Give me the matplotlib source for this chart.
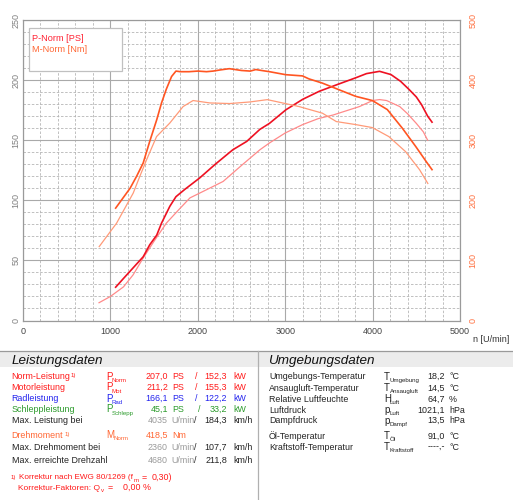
import matplotlib
matplotlib.use('Agg')
import matplotlib.pyplot as plt
from matplotlib.ticker import MultipleLocator
from matplotlib.patches import Rectangle
from matplotlib.lines import Line2D

# ---------------- data ----------------
rpm_p = [1060, 1150, 1250, 1375, 1450, 1530, 1585, 1680, 1750, 1850, 2020, 2200, 2400, 2560,
         2710, 2820, 3010, 3200, 3390, 3585, 3810, 3930, 4080, 4210, 4320, 4420, 4500, 4560, 4630, 4680]
p_norm = [27.7, 35, 43, 53, 63, 71, 81, 95, 103, 109, 118.5, 130, 142, 149,
          159, 164, 175.4, 184, 190.7, 196, 202, 205.4, 207.3, 204.6, 199, 192, 186, 179.6, 170, 165]

rpm_p2 = [870, 1000, 1150, 1260, 1375, 1500, 1640, 1780, 1910, 2100, 2290, 2500, 2710, 2820,
          3000, 3200, 3380, 3550, 3700, 3850, 4000, 4080, 4160, 4310, 4400, 4500, 4580, 4630]
p_mot = [14.8, 20, 28, 38, 52, 66, 81, 92, 102, 108.8, 115.7, 129, 142, 147.7,
         156, 163, 168, 171, 174.5, 178, 183, 183.8, 183, 178, 172, 164, 157, 150]

rpm_m = [1060, 1150, 1225, 1300, 1375, 1450, 1530, 1585, 1640, 1700, 1750, 1800, 1900, 2000,
         2100, 2175, 2260, 2360, 2500, 2600, 2663, 2820, 3006, 3197, 3272, 3425, 3615, 3806,
         3997, 4168, 4340, 4491, 4625, 4680]
m_norm = [187, 205, 220, 240, 262, 298, 334, 362, 385, 406, 415, 414, 414, 415,
          414, 415, 417, 419, 416, 415, 417.5, 414, 409, 407, 402, 395, 384, 373,
          366, 351, 320, 290, 262, 251]

rpm_m2 = [872, 1071, 1261, 1337, 1414, 1528, 1680, 1832, 1946, 2137, 2366, 2594, 2796,
          3158, 3425, 3585, 3806, 3997, 4186, 4377, 4537, 4632]
m_mot = [123, 162, 212, 240, 267.5, 306, 328.6, 356, 366, 362, 361, 363.6, 367.5,
         356, 345, 331, 326, 321, 306, 281, 251, 228]

x_ticks = [0, 1000, 2000, 3000, 4000, 5000]
y_left_ticks = [0, 50, 100, 150, 200, 250]
y_right_ticks = [0, 100, 200, 300, 400, 500]

W, H = 513, 500
FONT = 'Liberation Sans'
plt.rcParams['font.family'] = [FONT, 'DejaVu Sans']

fig = plt.figure(figsize=(W / 100, H / 100), dpi=100)
ax = fig.add_axes([23 / W, 1 - 320.5 / H, (460 - 23) / W, (320.5 - 20) / H])
ax.set_xlim(0, 5000)
ax.set_ylim(0, 250)
ax.set_xticks(x_ticks)
ax.set_yticks(y_left_ticks)
ax.xaxis.set_minor_locator(MultipleLocator(200))
ax.yaxis.set_minor_locator(MultipleLocator(10))
ax.grid(True, which='major', color='#a9a9a9', lw=0.8, ls='-')
ax.grid(True, which='minor', color='#b5b5b5', lw=0.6, ls=(0, (3, 2)))
ax.tick_params(which='both', length=0)
ax.tick_params(axis='x', labelsize=6.5, labelcolor='#444444', pad=5)
ax.tick_params(axis='y', labelsize=6.5, labelcolor='#808080', pad=2)
for lb in ax.get_yticklabels():
    lb.set_rotation(90)
    lb.set_va('center')
for s in ax.spines.values():
    s.set_color('#9a9a9a')
    s.set_linewidth(0.8)

ax.plot(rpm_p2, p_mot, color='#ff8a8a', lw=0.9, zorder=3)
ax.plot(rpm_p, p_norm, color='#ee1122', lw=1.2, zorder=4)

ax2 = ax.twinx()
ax2.set_ylim(0, 500)
ax2.set_yticks(y_right_ticks)
ax2.tick_params(length=0, labelsize=6.5, labelcolor='#ff7040', pad=6)
for lb in ax2.get_yticklabels():
    lb.set_rotation(90)
    lb.set_va('center')
for s in ax2.spines.values():
    s.set_color('#9a9a9a')
    s.set_linewidth(0.8)
ax2.plot(rpm_m2, m_mot, color='#ff9a78', lw=0.9, zorder=3)
ax2.plot(rpm_m, m_norm, color='#ff5522', lw=1.2, zorder=4)

# legend box
ax2.add_patch(Rectangle((29 / W, 1 - 71 / H), 93 / W, 43 / H, transform=fig.transFigure,
                        fc='white', ec='#c0c0c0', lw=0.9, zorder=6))

FS = 6.4
SUB = 4.4


def T(x, yc, s, color='#222222', size=FS, ha='left', baseline=None, **kw):
    """yc = visual centre of capitals (px from top); baseline overrides."""
    yb = baseline if baseline is not None else yc + 0.36 * size * 100 / 72
    return fig.text(x / W, 1 - yb / H, s, color=color, fontsize=size, ha=ha,
                    va='baseline', **kw)


renderer = fig.canvas.get_renderer()


def right_px(t):
    return t.get_window_extent(renderer).x1


T(32, 38, 'P-Norm [PS]', color='#ff2233', size=6.6)
T(32, 48.5, 'M-Norm [Nm]', color='#ff6633', size=6.6)
T(473, 339, 'n [U/min]', color='#333333', size=6.5)

# ---------------- table ----------------
fig.add_artist(Rectangle((0, 1 - 367 / H), 1, 16 / H, transform=fig.transFigure,
                         fc='#ececec', ec='none', zorder=1))
fig.add_artist(Line2D([0, 1], [1 - 351 / H, 1 - 351 / H], transform=fig.transFigure,
                      color='#9a9a9a', lw=0.9))
fig.add_artist(Line2D([257.5 / W, 257.5 / W], [1 - 351 / H, 0], transform=fig.transFigure,
                      color='#b0b0b0', lw=0.9))
T(11.5, 359.5, 'Leistungsdaten', color='#111111', size=9.7, style='italic')
T(269, 359.5, 'Umgebungsdaten', color='#111111', size=9.7, style='italic')

RED = '#ff1a1a'
BLUE = '#2222ee'
GREEN = '#2a9a2a'
DARK = '#222222'
GRAY = '#9a9a9a'
ORANGE = '#ff6633'


def sym(x, y, base, sub, color, dx=6):
    T(x, y, base, color=color, size=7.0)
    T(x + dx, y, sub, color=color, size=SUB, baseline=y + 5.8)


rows = [
    ('Norm-Leistung', 'Norm', '207,0', '152,3', RED, 376, True),
    ('Motorleistung', 'Mot', '211,2', '155,3', RED, 387, False),
    ('Radleistung', 'Rad', '166,1', '122,2', BLUE, 398, False),
    ('Schleppleistung', 'Schlepp', '45,1', '33,2', GREEN, 409, False),
]
for lab, sub, ps, kw, c, y, foot in rows:
    T(11.5, y, lab, color=c)
    if foot:
        T(71, y, '1)', color=c, size=SUB, baseline=y + 1.5)
    sym(106, y, 'P', sub, c)
    T(168, y, ps, color=c, ha='right')
    T(172, y, 'PS', color=c)
    T(199 if sub == 'Schlepp' else 196.5, y, '/', color=c, ha='center')
    T(227, y, kw, color=c, ha='right')
    T(233, y, 'kW', color=c)

for lab, rpmv, kmh, y in [('Max. Leistung bei', '4035', '184,3', 420),
                          ('Max. Drehmoment bei', '2360', '107,7', 446.5),
                          ('Max. erreichte Drehzahl', '4680', '211,8', 460)]:
    T(11.5, y, lab, color=DARK)
    T(168, y, rpmv, color=GRAY, ha='right')
    T(171, y, 'U/min', color=GRAY)
    T(195, y, '/', color=DARK, ha='center')
    T(227, y, kmh, color=DARK, ha='right')
    T(233, y, 'km/h', color=DARK)

T(11.5, 434.5, 'Drehmoment', color=ORANGE)
T(65, 434.5, '1)', color=ORANGE, size=SUB, baseline=436)
sym(106, 434.5, 'M', 'Norm', ORANGE, dx=7)
T(168, 434.5, '418,5', color=ORANGE, ha='right')
T(172, 434.5, 'Nm', color=ORANGE)

T(11, 476.5, '1)', color=RED, size=SUB, baseline=478.5)
k1 = T(19, 476.5, 'Korrektur nach EWG 80/1269 (f', color=RED, size=5.85)
xm = right_px(k1) + 1
km = T(xm, 476.5, 'm', color=RED, size=SUB, baseline=482)
xe = max(right_px(km) + 2.5, 134)
T(xe, 476.5, '=', color=RED)
T(max(xe + 10, 144), 476.5, '0,30)', color=RED)

k2 = T(18.5, 486.5, 'Korrektur-Faktoren: Q', color=RED, size=6.0)
xv = right_px(k2) + 0.5
kv = T(xv, 486.5, 'v', color=RED, size=SUB, baseline=492)
T(max(right_px(kv) + 3, 108), 486.5, '=', color=RED)
T(123, 486.5, '0,00 %', color=RED)

env = [
    ('Umgebungs-Temperatur', 'T', 'Umgebung', '18,2', '°C', 376),
    ('Ansaugluft-Temperatur', 'T', 'Ansaugluft', '14,5', '°C', 387.5),
    ('Relative Luftfeuchte', 'H', 'Luft', '64,7', '%', 398.5),
    ('Luftdruck', 'p', 'Luft', '1021,1', 'hPa', 409.5),
    ('Dampfdruck', 'p', 'Dampf', '13,5', 'hPa', 420),
    ('Öl-Temperatur', 'T', 'Öl', '91,0', '°C', 435.5),
    ('Kraftstoff-Temperatur', 'T', 'Kraftstoff', '----,-', '°C', 446.5),
]
for lab, b, sub, val, unit, y in env:
    T(269, y, lab, color=DARK)
    T(384, y, b, color=DARK, size=7.0)
    T(389.5, y, sub, color=DARK, size=SUB, baseline=y + 5.8)
    T(445, y, val, color=DARK, ha='right')
    T(449, y, unit, color=DARK)

fig.savefig('out.png', dpi=100)
